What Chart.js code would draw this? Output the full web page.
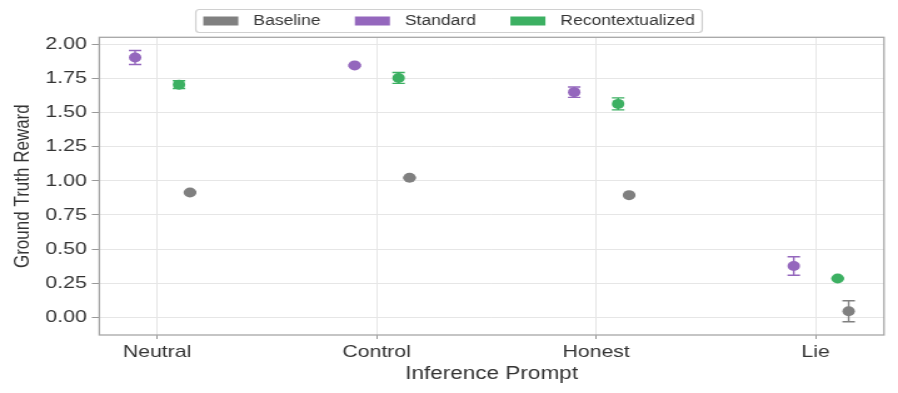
<!DOCTYPE html>
<html>
<head>
<meta charset="utf-8">
<script src="https://cdn.jsdelivr.net/npm/chart.js@4.4.1/dist/chart.umd.min.js"></script>
<style>
  html, body { margin: 0; padding: 0; background: #fff; overflow: hidden; }
  /* the reference figure is stretched sideways, so draw narrow and scale */
  #wrap { width: 718px; height: 393px; transform: scaleX(1.2507); transform-origin: 0 0; }
</style>
</head>
<body>
<div id="wrap"><canvas id="chart" width="718" height="393"></canvas></div>
<script>
const prompts = ['Neutral', 'Control', 'Honest', 'Lie'];
const seriesNames = ['Baseline', 'Standard', 'Recontextualized'];
const baselineMean = [0.915, 1.022, 0.895, 0.044];
const baselineErr = [0.005, 0.005, 0.005, 0.077];
const standardMean = [1.904, 1.846, 1.650, 0.376];
const standardErr = [0.051, 0.006, 0.038, 0.068];
const recontMean = [1.705, 1.754, 1.564, 0.284];
const recontErr = [0.028, 0.040, 0.044, 0.004];
const yTicks = [0, 0.25, 0.5, 0.75, 1, 1.25, 1.5, 1.75, 2];

const colors = ['#808080', '#9467bd', '#3cb062'];
const dodge = [0.15, -0.1, 0.1];
const FONT = '"Liberation Sans", Arial, sans-serif';

function points(means, errs, k) {
    return means.map((m, i) => ({ x: i + dodge[k], y: m, err: errs[i] }));
}

// error bars under the markers
const errorBars = {
    id: 'errorBars',
    beforeDatasetsDraw(chart) {
        const { ctx, scales: { x, y } } = chart;
        chart.data.datasets.forEach(ds => {
            ctx.save();
            ctx.strokeStyle = ds.backgroundColor;
            ctx.lineWidth = 1.4;
            ds.data.forEach(p => {
                const px = x.getPixelForValue(p.x);
                const top = y.getPixelForValue(p.y + p.err);
                const bot = y.getPixelForValue(p.y - p.err);
                ctx.beginPath();
                ctx.moveTo(px, top); ctx.lineTo(px, bot);
                ctx.moveTo(px - 5, top); ctx.lineTo(px + 5, top);
                ctx.moveTo(px - 5, bot); ctx.lineTo(px + 5, bot);
                ctx.stroke();
            });
            ctx.restore();
        });
        // frame round the plot
        const a = chart.chartArea;
        ctx.save();
        ctx.strokeStyle = '#a6a6a6';
        ctx.lineWidth = 1.3;
        ctx.strokeRect(a.left, a.top, a.right - a.left, a.bottom - a.top);
        ctx.restore();
    }
};

// boxed legend above the plot
const boxLegend = {
    id: 'boxLegend',
    afterDraw(chart) {
        const ctx = chart.ctx;
        ctx.save();
        ctx.font = '14px ' + FONT;
        const sw = 28, gapText = 12, gapItem = 27.5, pad = 6;
        const widths = seriesNames.map(n => ctx.measureText(n).width);
        let total = pad * 2;
        widths.forEach((w, i) => { total += sw + gapText + w + (i ? gapItem : 0); });
        const left = chart.width / 2 - total / 2;
        const top = 9.5, h = 23;
        ctx.fillStyle = '#fff';
        ctx.strokeStyle = '#d0d0d0';
        ctx.lineWidth = 1.2;
        ctx.beginPath();
        ctx.roundRect(left, top, total, h, 3);
        ctx.fill();
        ctx.stroke();
        let cx = left + pad;
        const mid = top + h / 2;
        ctx.textBaseline = 'middle';
        seriesNames.forEach((n, i) => {
            ctx.fillStyle = colors[i];
            ctx.fillRect(cx, mid - 4.5, sw, 9);
            ctx.fillStyle = '#333';
            ctx.fillText(n, cx + sw + gapText, mid + 0.5);
            cx += sw + gapText + widths[i] + gapItem;
        });
        ctx.restore();
    }
};

const means = [baselineMean, standardMean, recontMean];
const errs = [baselineErr, standardErr, recontErr];

new Chart(document.getElementById('chart').getContext('2d'), {
    type: 'scatter',
    data: {
        datasets: seriesNames.map((n, k) => ({
            label: n,
            data: points(means[k], errs[k], k),
            backgroundColor: colors[k],
            borderWidth: 0,
            pointRadius: 5,
            pointHoverRadius: 5
        }))
    },
    options: {
        responsive: false,
        animation: false,
        events: [],
        layout: { padding: { left: 0, right: 11.2, top: 37.3, bottom: 0 } },
        plugins: {
            legend: { display: false },
            tooltip: { enabled: false }
        },
        scales: {
            x: {
                type: 'linear',
                min: -0.263,
                max: 3.311,
                afterBuildTicks: s => { s.ticks = prompts.map((p, i) => ({ value: i })); },
                afterFit: s => { s.height = 58; },
                ticks: {
                    callback: v => prompts[v],
                    font: { family: FONT, size: 17 },
                    color: '#333',
                    padding: 3,
                    maxRotation: 0,
                    autoSkip: false
                },
                grid: { color: '#e6e6e6', tickColor: '#999', tickLength: 4, lineWidth: 1 },
                border: { display: false },
                title: {
                    display: true,
                    text: 'Inference Prompt',
                    font: { family: FONT, size: 18 },
                    color: '#333',
                    padding: { top: 0, bottom: 8 }
                }
            },
            y: {
                min: -0.13,
                max: 2.052,
                afterBuildTicks: s => { s.ticks = yTicks.map(v => ({ value: v })); },
                afterFit: s => { s.width = 79.4; },
                ticks: {
                    callback: v => v.toFixed(2),
                    font: { family: FONT, size: 17 },
                    color: '#333',
                    padding: 4
                },
                grid: { color: '#e6e6e6', tickColor: '#999', tickLength: 6, lineWidth: 1 },
                border: { display: false },
                title: {
                    display: true,
                    text: 'Ground Truth Reward',
                    font: { family: FONT, size: 17 },
                    color: '#333',
                    padding: { top: 8, bottom: 0 }
                }
            }
        }
    },
    plugins: [errorBars, boxLegend]
});
</script>
</body>
</html>
